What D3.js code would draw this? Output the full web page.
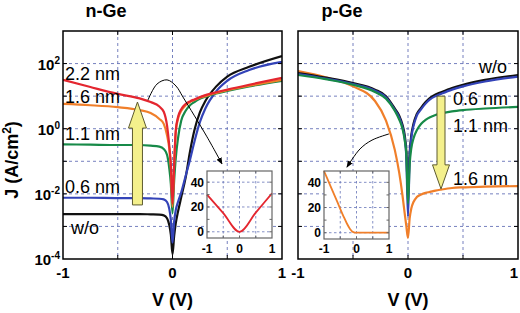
<!DOCTYPE html>
<html>
<head>
<meta charset="utf-8">
<script src="https://cdn.jsdelivr.net/npm/d3@7"></script>
<style>
  body { margin: 0; background: #fff; }
  svg { display: block; font-family: "Liberation Sans", Arial, Helvetica, sans-serif; }
</style>
</head>
<body>
<svg id="chart"></svg>
<script>
let width = 520,
    height = 313,
    svg = d3.select("#chart").attr("width", width).attr("height", height);

// bias points (V), denser near 0 where the curves dip
const volts = [-1, -0.75, -0.5, -0.3, -0.2, -0.12, -0.08, -0.05, -0.03, -0.015, 0,
               0.015, 0.03, 0.05, 0.08, 0.12, 0.16, 0.2, 0.25, 0.3, 0.4, 0.5, 0.7, 1];

// log10 |J| (A/cm2)
const nGe_wo = [-2.62, -2.62, -2.62, -2.62, -2.63, -2.64, -2.66, -2.75, -2.95, -3.25, -3.85,
                -3.3, -2.9, -2.55, -2.1, -1.5, -0.7, -0.05, 0.5, 0.85, 1.3, 1.6, 1.9, 2.23];
const nGe_06 = [-2.12, -2.12, -2.13, -2.13, -2.14, -2.15, -2.17, -2.25, -2.45, -2.8, -3.5,
                -2.85, -2.5, -2.25, -1.95, -1.45, -0.95, -0.4, 0.2, 0.62, 1.15, 1.47, 1.8, 2.05];
const nGe_11 = [-0.48, -0.49, -0.5, -0.5, -0.52, -0.55, -0.62, -0.8, -1.2, -1.7, -2.6,
                -1.6, -0.9, -0.3, 0.25, 0.55, 0.72, 0.82, 0.92, 0.98, 1.08, 1.16, 1.3, 1.47];
const nGe_16 = [0.76, 0.72, 0.66, 0.57, 0.48, 0.3, 0.15, -0.2, -0.6, -1.2, -2.4,
                -1.1, -0.1, 0.3, 0.55, 0.72, 0.82, 0.88, 0.95, 1.0, 1.1, 1.18, 1.32, 1.5];
const nGe_22 = [1.5, 1.28, 1.07, 0.93, 0.82, 0.68, 0.52, 0.1, -0.5, -1.1, -2.3,
                -1.1, -0.05, 0.35, 0.6, 0.76, 0.84, 0.9, 0.97, 1.03, 1.12, 1.2, 1.35, 1.56];

const pGe_wo = [1.71, 1.57, 1.4, 1.2, 1.0, 0.62, 0.4, 0.12, -0.2, -0.7, -2.0,
                -0.75, -0.2, 0.15, 0.45, 0.65, 0.82, 0.95, 1.05, 1.12, 1.25, 1.35, 1.5, 1.65];
const pGe_06 = [1.68, 1.54, 1.37, 1.17, 0.96, 0.58, 0.35, 0.05, -0.3, -0.9, -2.7,
                -0.9, -0.3, 0.08, 0.4, 0.6, 0.77, 0.9, 1.0, 1.07, 1.2, 1.3, 1.45, 1.6];
const pGe_11 = [1.65, 1.52, 1.35, 1.13, 0.92, 0.55, 0.28, 0.0, -0.35, -0.8, -2.3,
                -1.1, -0.6, -0.3, -0.05, 0.15, 0.27, 0.35, 0.42, 0.47, 0.53, 0.57, 0.62, 0.67];
const pGe_16 = [1.77, 1.58, 1.3, 0.85, 0.25, -0.65, -1.35, -2.05, -2.6, -3.0, -3.35,
                -2.75, -2.45, -2.25, -2.1, -2.02, -1.97, -1.94, -1.9, -1.87, -1.82, -1.8, -1.78, -1.76];

// insets, linear J (A/cm2)
const nInsetV = [-1, -0.5, 0, 0.5, 1];
const nInsetJ = [30, 15, 0, 15.5, 31];
const pInsetV = [-1, -0.8, -0.6, -0.4, -0.3, -0.2, -0.1, 0, 0.5, 1];
const pInsetJ = [49, 37, 25, 13, 7.5, 3, 0.5, 0, 0, 0];

// tick labels
const xTickLabels = [-1, 0, 1];
const yTickExponents = [2, 0, -2, -4];
const insetYTicks = [0, 20, 40];

const colors = {wo: "#111", t06: "#3343b8", t11: "#178a48", t16: "#f07f2a", t22: "#e4262f"};

const plotTop = 31, plotBottom = 259;
const gridColor = "#6673b8";

const defs = svg.append("defs");
defs.append("marker")
    .attr("id", "tip")
    .attr("viewBox", "0 0 10 10")
    .attr("refX", 9).attr("refY", 5)
    .attr("markerWidth", 7).attr("markerHeight", 7)
    .attr("orient", "auto")
    .append("path")
    .attr("d", "M0,1 L10,5 L0,9 Z")
    .attr("fill", "#000");

const panels = [
    {
        title: "n-Ge", titleX: 106, x0: 63, x1: 282,
        series: [
            {v: nGe_wo, c: colors.wo}, {v: nGe_06, c: colors.t06}, {v: nGe_11, c: colors.t11},
            {v: nGe_16, c: colors.t16}, {v: nGe_22, c: colors.t22}
        ],
        labels: [["2.2 nm", 65, 80], ["1.6 nm", 65, 103], ["1.1 nm", 65, 140], ["0.6 nm", 65, 193], ["w/o", 71, 234]],
        anchor: "start",
        // yellow arrow in data coords: V, log tail, log head base, log tip
        yellow: {v: -0.32, tail: -2.34, base: 0.02, tip: 0.82, sw: 5, hw: 9},
        pointer: [[-0.224, 0.88], [-0.142, 1.37], [-0.05, 1.5], [0.032, 1.31], [0.096, 0.97], [0.315, -0.25], [0.452, -1.08]],
        inset: {x0: 207, x1: 272, y0: 171, y1: 238, V: nInsetV, J: nInsetJ, c: colors.t22}
    },
    {
        title: "p-Ge", titleX: 342, x0: 298, x1: 518,
        series: [
            {v: pGe_16, c: colors.t16}, {v: pGe_wo, c: colors.wo}, {v: pGe_06, c: colors.t06},
            {v: pGe_11, c: colors.t11}
        ],
        labels: [["w/o", 507, 73], ["0.6 nm", 508, 105], ["1.1 nm", 508, 132], ["1.6 nm", 508, 185]],
        anchor: "end",
        yellow: {v: 0.3, tail: 1.0, base: -1.11, tip: -1.85, sw: 4, hw: 8.5},
        pointer: [[-0.173, -0.16], [-0.327, -0.35], [-0.436, -0.62], [-0.555, -1.18]],
        inset: {x0: 324, x1: 389, y0: 171, y1: 239, V: pInsetV, J: pInsetJ, c: colors.t16}
    }
];

panels.forEach(function (p, i) {
    const x = d3.scaleLinear().domain([-1, 1]).range([p.x0, p.x1]);
    const y = d3.scaleLog().domain([1e-4, 1e3]).range([plotBottom, plotTop]);
    const g = svg.append("g");

    defs.append("clipPath").attr("id", "clip" + i)
        .append("rect").attr("x", p.x0).attr("y", plotTop)
        .attr("width", p.x1 - p.x0).attr("height", plotBottom - plotTop);

    // grid
    const decades = [1e-3, 1e-2, 1e-1, 1, 10, 100];
    g.selectAll(".vg").data([-0.5, 0, 0.5]).enter().append("line")
        .attr("x1", d => x(d)).attr("x2", d => x(d))
        .attr("y1", plotTop).attr("y2", plotBottom)
        .attr("stroke", gridColor).attr("stroke-width", 0.9).attr("stroke-dasharray", "3,3");
    g.selectAll(".hg").data(decades).enter().append("line")
        .attr("x1", p.x0).attr("x2", p.x1)
        .attr("y1", d => y(d)).attr("y2", d => y(d))
        .attr("stroke", gridColor).attr("stroke-width", 0.9).attr("stroke-dasharray", "3,3");

    // curves
    const line = d3.line().x(d => x(d[0])).y(d => y(d[1])).curve(d3.curveMonotoneX);
    g.append("g").attr("clip-path", "url(#clip" + i + ")")
        .selectAll("path").data(p.series).enter().append("path")
        .attr("d", s => line(volts.map((v, k) => [v, Math.pow(10, s.v[k])])))
        .attr("fill", "none")
        .attr("stroke", s => s.c)
        .attr("stroke-width", 2.2);

    // frame + ticks
    g.append("rect").attr("x", p.x0).attr("y", plotTop)
        .attr("width", p.x1 - p.x0).attr("height", plotBottom - plotTop)
        .attr("fill", "none").attr("stroke", "#000").attr("stroke-width", 1.5);
    decades.forEach(function (d) {
        g.append("line").attr("x1", p.x0).attr("x2", p.x0 + 4).attr("y1", y(d)).attr("y2", y(d)).attr("stroke", "#000");
        g.append("line").attr("x1", p.x1).attr("x2", p.x1 - 4).attr("y1", y(d)).attr("y2", y(d)).attr("stroke", "#000");
    });
    [-0.5, 0, 0.5].forEach(function (d) {
        g.append("line").attr("x1", x(d)).attr("x2", x(d)).attr("y1", plotBottom).attr("y2", plotBottom - 4).attr("stroke", "#000");
        g.append("line").attr("x1", x(d)).attr("x2", x(d)).attr("y1", plotTop).attr("y2", plotTop + 4).attr("stroke", "#000");
    });

    // x tick labels (last one of the right panel kept inside the window)
    g.selectAll(".xl").data(xTickLabels).enter().append("text")
        .attr("x", d => (i === 1 && d === 1) ? x(d) - 4 : x(d)).attr("y", 278)
        .attr("text-anchor", "middle")
        .style("font-size", "15px").style("font-weight", "bold")
        .text(d => d < 0 ? "-" + Math.abs(d) : d);

    // y tick labels only on the first panel
    if (i === 0) {
        yTickExponents.forEach(function (e) {
            const t = g.append("text")
                .attr("x", p.x0 - 3).attr("y", y(Math.pow(10, e)) + 6)
                .attr("text-anchor", "end")
                .style("font-size", "15px").style("font-weight", "bold");
            t.append("tspan").text("10");
            t.append("tspan").attr("dy", -6).style("font-size", "10px").text(e < 0 ? "-" + Math.abs(e) : e);
        });
    }

    // titles
    g.append("text").attr("x", p.titleX).attr("y", 17)
        .attr("text-anchor", "middle")
        .style("font-size", "18px").style("font-weight", "bold")
        .text(p.title);

    g.append("text").attr("x", x(0)).attr("y", 306)
        .attr("text-anchor", "middle")
        .style("font-size", "18px").style("font-weight", "bold")
        .text("V (V)");

    // curve labels
    g.selectAll(".lab").data(p.labels).enter().append("text")
        .attr("x", d => d[1]).attr("y", d => d[2])
        .attr("text-anchor", p.anchor)
        .style("font-size", "18px")
        .text(d => d[0]);

    // thin pointer arrow toward the inset
    const pline = d3.line().x(d => x(d[0])).y(d => y(Math.pow(10, d[1]))).curve(d3.curveCatmullRom);
    g.append("path").attr("d", pline(p.pointer))
        .attr("fill", "none").attr("stroke", "#000").attr("stroke-width", 1)
        .attr("marker-end", "url(#tip)");

    // big yellow arrow
    const a = p.yellow, xc = x(a.v),
          yt = y(Math.pow(10, a.tail)), yb = y(Math.pow(10, a.base)), yp = y(Math.pow(10, a.tip));
    const pts = [[xc - a.sw, yt], [xc - a.sw, yb], [xc - a.hw, yb], [xc, yp],
                 [xc + a.hw, yb], [xc + a.sw, yb], [xc + a.sw, yt]];
    g.append("polygon").attr("points", pts.map(q => q.join(",")).join(" "))
        .attr("fill", "#f4f08c").attr("stroke", "#5d5a30").attr("stroke-width", 1);

    // inset
    const b = p.inset;
    const ix = d3.scaleLinear().domain([-1, 1]).range([b.x0, b.x1]);
    const iy = d3.scaleLinear().domain([-5, 49]).range([b.y1, b.y0]);
    const ig = svg.append("g");
    ig.append("rect").attr("x", b.x0).attr("y", b.y0)
        .attr("width", b.x1 - b.x0).attr("height", b.y1 - b.y0)
        .attr("fill", "#fff");
    ig.selectAll(".ivg").data([-0.5, 0, 0.5]).enter().append("line")
        .attr("x1", d => ix(d)).attr("x2", d => ix(d)).attr("y1", b.y0).attr("y2", b.y1)
        .attr("stroke", gridColor).attr("stroke-width", 0.8).attr("stroke-dasharray", "2.5,2.5");
    ig.selectAll(".ihg").data(insetYTicks).enter().append("line")
        .attr("x1", b.x0).attr("x2", b.x1).attr("y1", d => iy(d)).attr("y2", d => iy(d))
        .attr("stroke", gridColor).attr("stroke-width", 0.8).attr("stroke-dasharray", "2.5,2.5");
    ig.append("path")
        .attr("d", d3.line().x(d => ix(d[0])).y(d => iy(d[1])).curve(d3.curveMonotoneX)(b.V.map((v, k) => [v, b.J[k]])))
        .attr("fill", "none").attr("stroke", b.c).attr("stroke-width", 1.8);
    ig.append("rect").attr("x", b.x0).attr("y", b.y0)
        .attr("width", b.x1 - b.x0).attr("height", b.y1 - b.y0)
        .attr("fill", "none").attr("stroke", "#666").attr("stroke-width", 1.2);
    [0, 10, 20, 30, 40].forEach(function (d) {
        ig.append("line").attr("x1", b.x0).attr("x2", b.x0 + 2.5).attr("y1", iy(d)).attr("y2", iy(d)).attr("stroke", "#666");
        ig.append("line").attr("x1", b.x1).attr("x2", b.x1 - 2.5).attr("y1", iy(d)).attr("y2", iy(d)).attr("stroke", "#666");
    });
    [-0.5, 0, 0.5].forEach(function (d) {
        ig.append("line").attr("x1", ix(d)).attr("x2", ix(d)).attr("y1", b.y1).attr("y2", b.y1 - 2.5).attr("stroke", "#666");
        ig.append("line").attr("x1", ix(d)).attr("x2", ix(d)).attr("y1", b.y0).attr("y2", b.y0 + 2.5).attr("stroke", "#666");
    });
    ig.selectAll(".iyl").data(insetYTicks).enter().append("text")
        .attr("x", b.x0 - 3).attr("y", d => iy(d) + 4.5)
        .attr("text-anchor", "end")
        .style("font-size", "12px").style("font-weight", "bold")
        .text(d => d);
    ig.selectAll(".ixl").data(xTickLabels).enter().append("text")
        .attr("x", d => ix(d)).attr("y", 253)
        .attr("text-anchor", "middle")
        .style("font-size", "12px").style("font-weight", "bold")
        .text(d => d < 0 ? "-" + Math.abs(d) : d);
});

// y axis title
const yTitle = svg.append("text")
    .attr("transform", "translate(18,160) rotate(-90)")
    .attr("text-anchor", "middle")
    .style("font-size", "18px").style("font-weight", "bold");
yTitle.append("tspan").text("J (A/cm");
yTitle.append("tspan").attr("dy", -7).style("font-size", "12px").text("2");
yTitle.append("tspan").attr("dy", 7).text(")");
</script>
</body>
</html>
